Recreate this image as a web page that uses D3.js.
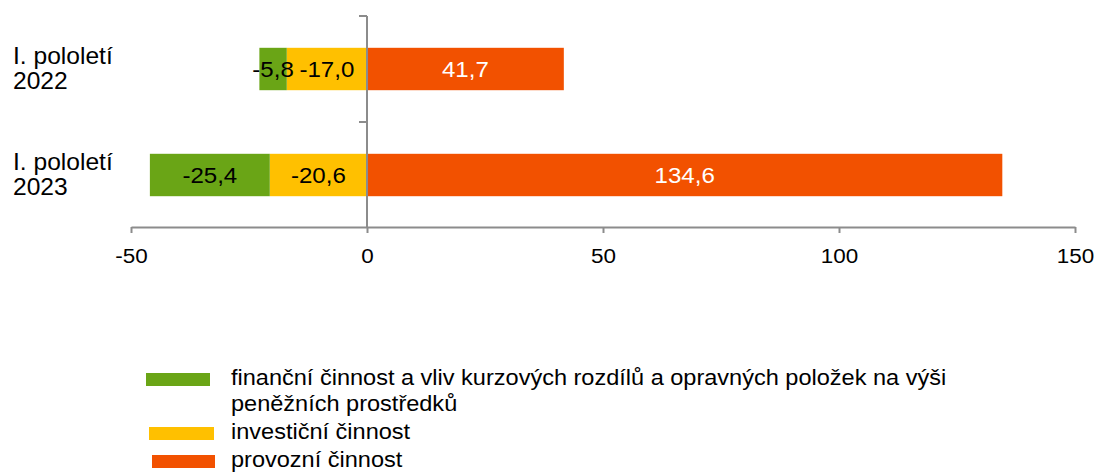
<!DOCTYPE html>
<html><head><meta charset="utf-8">
<script src="https://cdn.jsdelivr.net/npm/d3@7"></script>
<style>
body{margin:0;background:#fff;}
svg{display:block;font-family:"Liberation Sans",Arial,sans-serif;}
</style></head>
<body><svg id="c" width="1098" height="474"></svg>
<script>
const categories = ["I. pololetí 2022", "I. pololetí 2023"];
const categoryLines = [["I. pololetí", "2022"], ["I. pololetí", "2023"]];
const seriesNames = ["finanční činnost a vliv kurzových rozdílů a opravných položek na výši peněžních prostředků", "investiční činnost", "provozní činnost"];
const financni = [-5.8, -25.4];
const investicni = [-17.0, -20.6];
const provozni = [41.7, 134.6];
const xTicks = [-50, 0, 50, 100, 150];
const colors = ["#6AA516", "#FFC000", "#F25100"];
const labelColors = ["#000", "#000", "#fff"];

const SX = 1.07; // horizontal text stretch seen in the reference
const svg = d3.select("#c");
const x = d3.scaleLinear().domain([-50, 150]).range([131, 1075]);
const y = d3.scaleBand().domain(categories).range([16, 228]).paddingInner(0.6).paddingOuter(0.3);
const axisColor = "#8c8c8c";
const fmt = v => d3.format(".1f")(v).replace(".", ",").replace("−", "-");

const segs = [];
categories.forEach((c, i) => {
  const inv = investicni[i], fin = financni[i], pro = provozni[i];
  segs.push({c, s: 1, x0: inv, x1: 0, v: inv});
  segs.push({c, s: 0, x0: inv + fin, x1: inv, v: fin});
  segs.push({c, s: 2, x0: 0, x1: pro, v: pro});
});

svg.selectAll("rect.bar").data(segs).join("rect").attr("class", "bar")
  .attr("x", d => x(d.x0)).attr("width", d => x(d.x1) - x(d.x0))
  .attr("y", d => y(d.c)).attr("height", y.bandwidth())
  .attr("fill", d => colors[d.s]);

// axes
const gx = svg.append("g").attr("transform", "translate(0,227)")
  .call(d3.axisBottom(x).tickValues(xTicks).tickSize(6).tickSizeOuter(0).tickPadding(15).tickFormat(d => d3.format("d")(d).replace("−", "-")));
gx.select(".domain").attr("stroke", axisColor).attr("stroke-width", 2);
gx.selectAll(".tick line").attr("stroke", axisColor).attr("stroke-width", 2);
gx.selectAll(".tick text").attr("fill", "#000").attr("font-size", 21)
  .attr("font-family", "Liberation Sans, Arial, sans-serif")
  .attr("transform", `scale(${SX},1)`);

const yb = d3.scaleBand().domain(categories).range([16, 228]);
const gy = svg.append("g");
gy.append("line").attr("x1", x(0)).attr("x2", x(0)).attr("y1", 16).attr("y2", 228).attr("stroke", axisColor).attr("stroke-width", 2);
gy.selectAll("line.t").data(categories).join("line").attr("class", "t")
  .attr("x1", x(0) - 8).attr("x2", x(0)).attr("y1", d => yb(d)).attr("y2", d => yb(d))
  .attr("stroke", axisColor).attr("stroke-width", 2);

// category labels
categories.forEach((c, i) => {
  const cy = y(c) + y.bandwidth() / 2;
  const t = svg.append("text").attr("transform", `translate(13,${cy - 5}) scale(${SX},1)`)
    .attr("font-size", 23).attr("fill", "#000");
  categoryLines[i].forEach((ln, j) => t.append("tspan").attr("x", 0).attr("dy", j ? 25 : 0).text(ln));
});

// data labels
svg.selectAll("text.lbl").data(segs).join("text").attr("class", "lbl")
  .attr("transform", d => `translate(${(x(d.x0) + x(d.x1)) / 2},${y(d.c) + y.bandwidth() / 2 + 8}) scale(${SX},1)`)
  .attr("text-anchor", "middle").attr("font-size", 22.5)
  .attr("fill", d => labelColors[d.s]).text(d => fmt(d.v));

// legend
const legendItems = [
  {s: 0, sx: 146, sy: 373, sw: 64, lines: ["finanční činnost a vliv kurzových rozdílů a opravných položek na výši", "peněžních prostředků"], ty: 385},
  {s: 1, sx: 149, sy: 427, sw: 65, lines: ["investiční činnost"], ty: 439},
  {s: 2, sx: 152, sy: 455, sw: 63, lines: ["provozní činnost"], ty: 467}
];
legendItems.forEach(it => {
  svg.append("rect").attr("x", it.sx).attr("y", it.sy).attr("width", it.sw).attr("height", 13).attr("fill", colors[it.s]);
  const t = svg.append("text").attr("transform", `translate(231,${it.ty}) scale(${SX},1)`)
    .attr("font-size", 22).attr("fill", "#000");
  it.lines.forEach((ln, j) => t.append("tspan").attr("x", 0).attr("dy", j ? 26 : 0).text(ln));
});
</script></body></html>
